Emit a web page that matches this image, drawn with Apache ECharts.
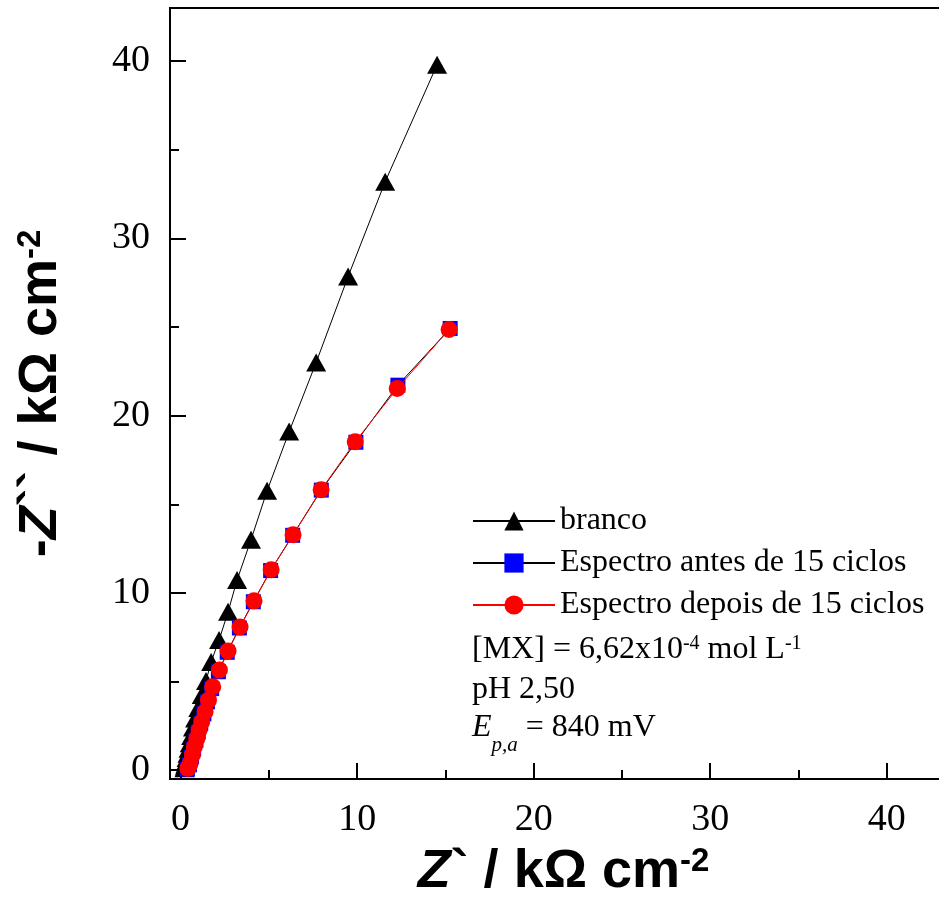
<!DOCTYPE html>
<html>
<head>
<meta charset="utf-8">
<script src="https://cdn.jsdelivr.net/npm/echarts@6/dist/echarts.min.js"></script>
<style>
  html, body { margin: 0; padding: 0; background: #fff; }
  #chart { width: 939px; height: 903px; }
</style>
</head>
<body>
<div id="chart"></div>
<script>
// Nyquist data, Z' (x) and -Z'' (y) in kOhm cm-2
var brancoX = [0.22, 0.24, 0.27, 0.30, 0.34, 0.39, 0.45, 0.52, 0.60, 0.70, 0.82, 1.00, 1.20, 1.44, 1.73, 2.18, 2.69, 3.20, 3.99, 4.90, 6.15, 7.68, 9.49, 11.59, 14.53]
var brancoY = [0.10, 0.20, 0.32, 0.48, 0.68, 0.92, 1.20, 1.52, 1.92, 2.40, 2.92, 3.50, 4.24, 5.03, 6.10, 7.34, 8.93, 10.73, 13.00, 15.76, 19.10, 23.00, 27.85, 33.20, 39.80]

var antesX = [0.38, 0.50, 0.62, 0.74, 0.87, 1.00, 1.14, 1.32, 1.52, 1.76, 2.14, 2.64, 3.33, 4.12, 5.10, 6.35, 7.97, 9.93, 12.31, 15.27]
var antesY = [0.05, 0.30, 0.75, 1.20, 1.68, 2.15, 2.62, 3.18, 3.85, 4.60, 5.55, 6.65, 8.02, 9.50, 11.26, 13.25, 15.80, 18.50, 21.72, 24.92]

var depoisX = [0.41, 0.54, 0.67, 0.78, 0.92, 1.05, 1.20, 1.39, 1.58, 1.82, 2.20, 2.69, 3.37, 4.16, 5.13, 6.37, 7.96, 9.89, 12.27, 15.21]
var depoisY = [0.10, 0.38, 0.85, 1.32, 1.79, 2.26, 2.73, 3.29, 3.95, 4.71, 5.65, 6.72, 8.08, 9.55, 11.30, 13.28, 15.82, 18.53, 21.53, 24.86]

var seriesNames = ['branco', 'Espectro antes de 15 ciclos', 'Espectro depois de 15 ciclos']

function pairs(xs, ys) {
  return xs.map(function (x, i) { return [x, ys[i]] })
}

var serif = '"Liberation Serif", "Times New Roman", serif'
var sans = '"Liberation Sans", Arial, sans-serif'

function tickLabel(v) {
  return (Math.abs(v % 10) < 1e-9) ? String(v) : ''
}

// rich styles for the bold axis titles
var titleRich = {
  i: { fontFamily: sans, fontSize: 54, fontWeight: 'bold', fontStyle: 'italic', color: '#000' },
  b: { fontFamily: sans, fontSize: 54, fontWeight: 'bold', color: '#000' },
  sup: { fontFamily: sans, fontSize: 33, fontWeight: 'bold', color: '#000', verticalAlign: 'top' }
}

var myChart = echarts.init(document.getElementById('chart'))

var option = {
  animation: false,
  backgroundColor: '#fff',
  grid: {
    left: 170,
    top: 8,
    right: -36,
    bottom: 124,
    outerBoundsMode: 'none',
    show: true,
    borderColor: '#000',
    borderWidth: 2
  },
  legend: {
    left: 467,
    top: 500,
    orient: 'vertical',
    itemWidth: 82,
    itemHeight: 24,
    itemGap: 10,
    data: seriesNames,
    textStyle: {
      fontFamily: serif,
      fontSize: 32,
      color: '#000'
    }
  },
  xAxis: {
    type: 'value',
    min: -0.6,
    max: 45,
    splitLine: { show: false },
    axisLine: { onZero: false, lineStyle: { color: '#000', width: 2 } },
    axisTick: { inside: true, length: 16, lineStyle: { color: '#000', width: 2 } },
    minorTick: { show: true, splitNumber: 2, length: 9, lineStyle: { color: '#000', width: 2 } },
    axisLabel: {
      formatter: tickLabel,
      margin: 22,
      fontFamily: serif,
      fontSize: 38,
      color: '#000'
    },
    name: '{i|Z}{b|` / kΩ cm}{sup|-2}',
    nameLocation: 'middle',
    nameGap: 66,
    nameTextStyle: { rich: titleRich, padding: [0, 18, 0, 0] }
  },
  yAxis: {
    type: 'value',
    min: -0.5,
    max: 43,
    splitLine: { show: false },
    axisLine: { onZero: false, lineStyle: { color: '#000', width: 2 } },
    axisTick: { inside: true, length: 16, lineStyle: { color: '#000', width: 2 } },
    minorTick: { show: true, splitNumber: 2, length: 9, lineStyle: { color: '#000', width: 2 } },
    axisLabel: {
      formatter: tickLabel,
      margin: 20,
      fontFamily: serif,
      fontSize: 38,
      color: '#000'
    },
    name: '{b|-}{i|Z}{b|`` / kΩ cm}{sup|-2}',
    nameLocation: 'middle',
    nameRotate: 90,
    nameGap: 102,
    nameTextStyle: { rich: titleRich }
  },
  graphic: [
    {
      type: 'text',
      left: 472,
      top: 634,
      style: {
        text: '{t|[MX] = 6,62x10}{s|-4}{t| mol L}{s|-1}',
        rich: {
          t: { fontFamily: serif, fontSize: 32, fill: '#000' },
          s: { fontFamily: serif, fontSize: 20, fill: '#000', verticalAlign: 'top' }
        }
      }
    },
    {
      type: 'text',
      left: 472,
      top: 674,
      style: {
        text: 'pH 2,50',
        font: '32px ' + serif,
        fill: '#000'
      }
    },
    {
      type: 'text',
      left: 472,
      top: 712,
      style: {
        text: '{e|E}{s|p,a}{t| = 840 mV}',
        rich: {
          e: { fontFamily: serif, fontSize: 32, fontStyle: 'italic', fill: '#000', verticalAlign: 'top' },
          s: { fontFamily: serif, fontSize: 21, fontStyle: 'italic', fill: '#000', verticalAlign: 'bottom', lineHeight: 44 },
          t: { fontFamily: serif, fontSize: 32, fill: '#000', verticalAlign: 'top' }
        }
      }
    }
  ],
  series: [
    {
      name: seriesNames[0],
      type: 'line',
      data: pairs(brancoX, brancoY),
      symbol: 'triangle',
      symbolSize: [20, 18],
      itemStyle: { color: '#000' },
      lineStyle: { color: '#000', width: 1 },
      z: 2
    },
    {
      name: seriesNames[1],
      type: 'line',
      data: pairs(antesX, antesY),
      symbol: 'rect',
      symbolSize: 15,
      itemStyle: { color: '#0000ff' },
      lineStyle: { color: '#000', width: 1 },
      z: 3
    },
    {
      name: seriesNames[2],
      type: 'line',
      data: pairs(depoisX, depoisY),
      symbol: 'circle',
      symbolSize: 17,
      itemStyle: { color: '#ff0000' },
      lineStyle: { color: '#ff0000', width: 1 },
      z: 4
    }
  ]
}

myChart.setOption(option)
</script>
</body>
</html>
